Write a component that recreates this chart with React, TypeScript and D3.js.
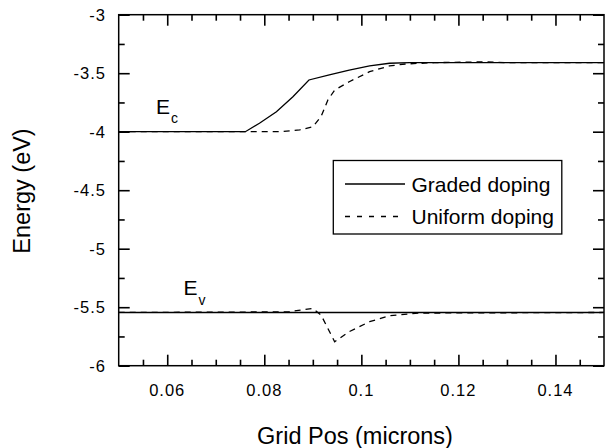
import * as d3 from 'd3'
import React, { useEffect, useRef } from 'react'

// conduction band, graded doping
const ecGradedX = [0.05, 0.0761, 0.079, 0.0825, 0.0859, 0.0892, 0.0934, 0.0975, 0.1017, 0.1058, 0.11, 0.15]
const ecGradedY = [-4, -4, -3.928, -3.829, -3.701, -3.558, -3.515, -3.473, -3.438, -3.415, -3.41, -3.41]

// conduction band, uniform doping
const ecUniformX = [0.05, 0.083, 0.0873, 0.09, 0.0917, 0.0931, 0.0945, 0.0975, 0.1017, 0.1058, 0.1092, 0.115, 0.125, 0.13, 0.15]
const ecUniformY = [-4, -4, -3.985, -3.957, -3.871, -3.729, -3.644, -3.573, -3.487, -3.438, -3.421, -3.41, -3.403, -3.41, -3.41]

// valence band, graded doping
const evGradedX = [0.05, 0.15]
const evGradedY = [-5.545, -5.545]

// valence band, uniform doping
const evUniformX = [0.05, 0.085, 0.0866, 0.09, 0.0917, 0.0945, 0.0975, 0.1017, 0.1058, 0.112, 0.15]
const evUniformY = [-5.545, -5.54, -5.53, -5.51, -5.567, -5.795, -5.709, -5.624, -5.573, -5.55, -5.545]

const xTicks = [0.06, 0.08, 0.1, 0.12, 0.14]
const xMinorTicks = [0.055, 0.065, 0.07, 0.075, 0.085, 0.09, 0.095, 0.105, 0.11, 0.115, 0.125, 0.13, 0.135, 0.145]
const yTicks = [-3, -3.5, -4, -4.5, -5, -5.5, -6]
const yMinorTicks = [-3.25, -3.75, -4.25, -4.75, -5.25, -5.75]
const legendLabels = ['Graded doping', 'Uniform doping']

const W = 605
const H = 448
const left = 118.7
const top = 14.7
const right = 604
const bottom = 365.7

const font = 'Liberation Sans, Arial, Helvetica, sans-serif'

export default function App() {
  const ref = useRef<SVGGElement>(null)

  const x = d3.scaleLinear().domain([0.05, 0.15]).range([left, right])
  const y = d3.scaleLinear().domain([-6, -3]).range([bottom, top])

  const line = d3
    .line<[number, number]>()
    .x(d => x(d[0]))
    .y(d => y(d[1]))

  const zip = (xs: number[], ys: number[]) => xs.map((v, i) => [v, ys[i]] as [number, number])

  const fmtX = (v: number) => String(+v.toFixed(2))

  useEffect(() => {
    if (!ref.current) return
    const g = d3.select(ref.current)
    g.selectAll('*').remove()

    // inward ticks on all four sides, labels drawn separately
    const addAxis = (axis: d3.Axis<d3.NumberValue>, tx: number, ty: number) => {
      const a = g.append('g').attr('transform', `translate(${tx},${ty})`).call(axis)
      a.select('.domain').remove()
      a.selectAll('text').remove()
      a.selectAll('line').attr('stroke', '#000').attr('stroke-width', 1.6)
    }
    addAxis(d3.axisBottom(x).tickValues(xTicks).tickSize(-11), 0, bottom)
    addAxis(d3.axisBottom(x).tickValues(xMinorTicks).tickSize(-6), 0, bottom)
    addAxis(d3.axisTop(x).tickValues(xTicks).tickSize(-11), 0, top)
    addAxis(d3.axisTop(x).tickValues(xMinorTicks).tickSize(-6), 0, top)
    addAxis(d3.axisLeft(y).tickValues(yTicks).tickSize(-11), left, 0)
    addAxis(d3.axisLeft(y).tickValues(yMinorTicks).tickSize(-6), left, 0)
    addAxis(d3.axisRight(y).tickValues(yTicks).tickSize(-11), right, 0)
    addAxis(d3.axisRight(y).tickValues(yMinorTicks).tickSize(-6), right, 0)
  }, [])

  return (
    <svg width={W} height={H} style={{ position: 'absolute', left: 0, top: 0 }}>
      <rect x={0} y={0} width={W} height={H} fill="#fff" />

      {/* curves: dashed first so solid sits on top */}
      <path d={line(zip(ecUniformX, ecUniformY)) || ''} fill="none" stroke="#000" strokeWidth={1.3} strokeDasharray="6,5" />
      <path d={line(zip(evUniformX, evUniformY)) || ''} fill="none" stroke="#000" strokeWidth={1.3} strokeDasharray="6,5" />
      <path d={line(zip(ecGradedX, ecGradedY)) || ''} fill="none" stroke="#000" strokeWidth={1.3} />
      <path d={line(zip(evGradedX, evGradedY)) || ''} fill="none" stroke="#000" strokeWidth={1.6} />

      {/* frame */}
      <rect x={left} y={top} width={right - left} height={bottom - top} fill="none" stroke="#000" strokeWidth={1.5} />

      {/* legend */}
      <rect x={333.3} y={160.5} width={228.5} height={73.5} fill="#fff" stroke="#000" strokeWidth={1.3} />
      <line x1={345} x2={405} y1={184} y2={184} stroke="#000" strokeWidth={1.3} />
      <line x1={345} x2={405} y1={216.5} y2={216.5} stroke="#000" strokeWidth={1.3} strokeDasharray="5,7" />
      <text x={411.5} y={191.7} fontSize={21} fontFamily={font}>
        {legendLabels[0]}
      </text>
      <text x={411.5} y={223.5} fontSize={21} fontFamily={font}>
        {legendLabels[1]}
      </text>

      <g ref={ref} />

      {/* tick labels */}
      {xTicks.map(t => (
        <text key={'xl' + t} x={x(t)} y={396} textAnchor="middle" fontSize={16.5} letterSpacing={1} fontFamily={font}>
          {fmtX(t)}
        </text>
      ))}
      {yTicks.map(t => (
        <text key={'yl' + t} x={106} y={y(t) + 5.8} textAnchor="end" fontSize={16.5} letterSpacing={1} fontFamily={font}>
          {String(t)}
        </text>
      ))}

      {/* axis titles */}
      <text x={355} y={444} textAnchor="middle" fontSize={23.5} fontFamily={font}>
        Grid Pos (microns)
      </text>
      <text transform="translate(30,191) rotate(-90)" textAnchor="middle" fontSize={23.5} fontFamily={font}>
        Energy (eV)
      </text>

      {/* band labels */}
      <text x={156} y={113.5} fontSize={21} fontFamily={font}>
        E
      </text>
      <text x={171} y={123} fontSize={14} fontFamily={font}>
        c
      </text>
      <text x={183.5} y={295} fontSize={21} fontFamily={font}>
        E
      </text>
      <text x={198.5} y={305} fontSize={14} fontFamily={font}>
        v
      </text>
    </svg>
  )
}
